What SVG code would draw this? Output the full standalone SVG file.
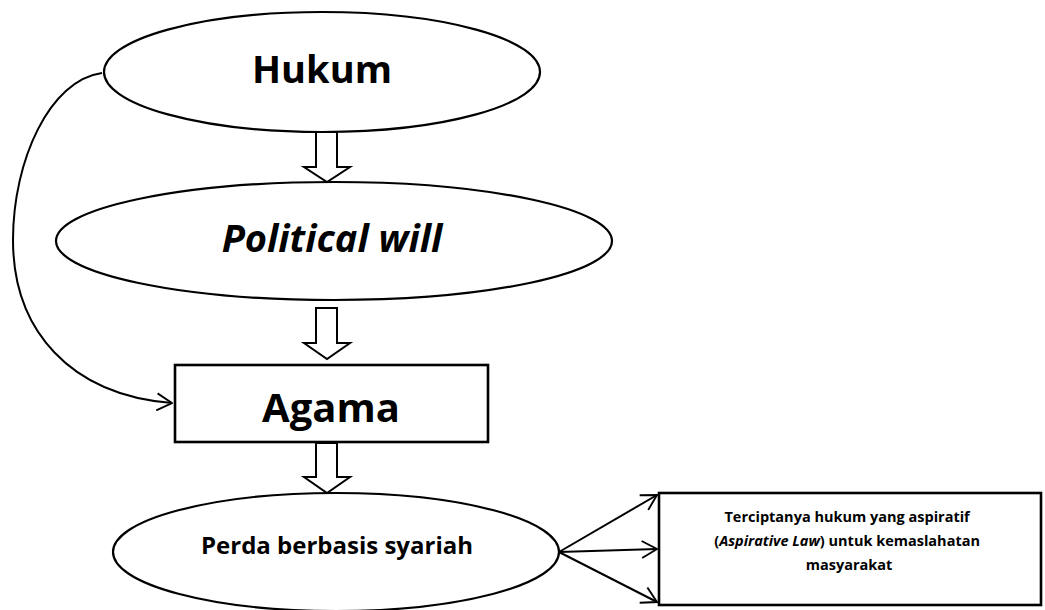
<svg xmlns="http://www.w3.org/2000/svg" width="1045" height="610" viewBox="0 0 1045 610">
  <style>
    .shape { fill: #fff; stroke: #000; stroke-width: 2.2; }
    .box { fill: #fff; stroke: #000; stroke-width: 2.6; }
    .label { font-family: "Open Sans", Lato, "Liberation Sans", sans-serif; font-weight: bold; fill: #000; text-anchor: middle; }
    .flow { fill: #fff; stroke: #000; stroke-width: 2; stroke-linejoin: miter; }
    .link { fill: none; stroke: #000; stroke-width: 2; }
  </style>
  <defs>
    <marker id="open-arrow" viewBox="0 0 18 20" refX="17" refY="10" markerWidth="17" markerHeight="19" markerUnits="userSpaceOnUse" orient="auto">
      <path d="M1,1 L17,10 L1,19" fill="none" stroke="#000" stroke-width="2"/>
    </marker>
  </defs>

  <rect width="1045" height="610" fill="#fff"/>

  <!-- connectors -->
  <g id="connectors">
    <path class="link" d="M102,73 C50,80 13,160 13,240 C13,330 70,395 172,403" marker-end="url(#open-arrow)"/>
    <polygon class="flow" points="316,132 337,132 337,167 350,167 327,182 304,167 316,167"/>
    <polygon class="flow" points="316,308 337,308 337,343 350,343 327,359 304,343 316,343"/>
    <polygon class="flow" points="316,443 337,443 337,477 350,477 327,493 304,477 316,477"/>
    <path class="link" d="M559,552 L657,495" marker-end="url(#open-arrow)"/>
    <path class="link" d="M559,552 L657,549" marker-end="url(#open-arrow)"/>
    <path class="link" d="M559,552 L657,602" marker-end="url(#open-arrow)"/>
  </g>

  <g id="hukum">
    <ellipse class="shape" cx="322" cy="72" rx="218" ry="60"/>
    <text class="label" x="322" y="83" font-size="38">Hukum</text>
  </g>

  <g id="political-will">
    <ellipse class="shape" cx="334" cy="241" rx="278" ry="59"/>
    <text class="label" x="332" y="252" font-size="38" font-style="italic">Political will</text>
  </g>

  <g id="agama">
    <rect class="box" x="175" y="365" width="313" height="77"/>
    <text class="label" x="331" y="422" font-size="40">Agama</text>
  </g>

  <g id="perda">
    <ellipse class="shape" cx="336" cy="552" rx="223" ry="59"/>
    <text class="label" x="337" y="554" font-size="24">Perda berbasis syariah</text>
  </g>

  <g id="hasil">
    <rect class="box" x="659" y="493" width="382" height="112"/>
    <text class="label" font-size="14.5">
      <tspan x="849" y="522">Terciptanya hukum yang aspiratif</tspan>
      <tspan x="849" y="546">(<tspan font-style="italic">Aspirative Law</tspan>) untuk kemaslahatan</tspan>
      <tspan x="849" y="570">masyarakat</tspan>
    </text>
  </g>
</svg>
